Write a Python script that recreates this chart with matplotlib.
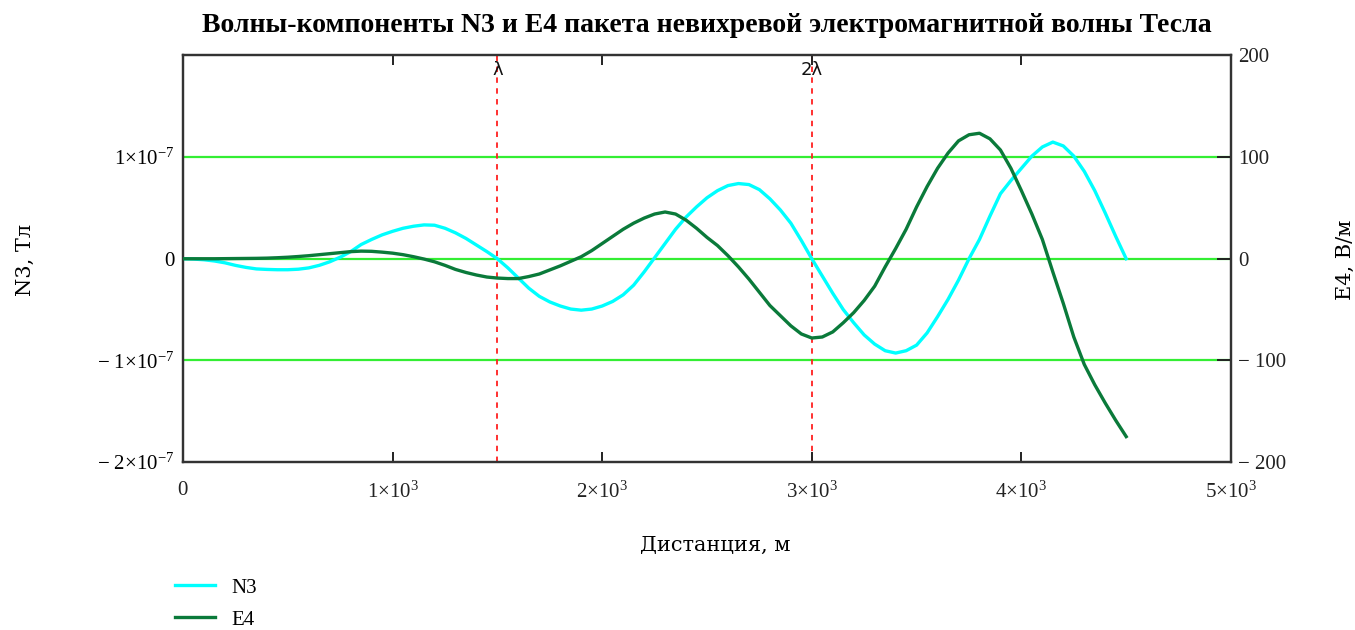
import matplotlib
matplotlib.use("Agg")
import matplotlib.pyplot as plt
from matplotlib.lines import Line2D

plt.rcParams['font.family'] = ['Liberation Serif', 'DejaVu Serif']
plt.rcParams['mathtext.fontset'] = 'custom'
plt.rcParams['mathtext.rm'] = 'Liberation Serif'
plt.rcParams['mathtext.it'] = 'Liberation Serif:italic'

# ---- data ----
distance_m = [0, 50, 100, 150, 200, 250, 300, 350, 400, 450,
              500, 550, 600, 650, 700, 750, 800, 850, 900, 950,
              1000, 1050, 1100, 1150, 1200, 1250, 1300, 1350, 1400, 1450,
              1500, 1550, 1600, 1650, 1700, 1750, 1800, 1850, 1900, 1950,
              2000, 2050, 2100, 2150, 2200, 2250, 2300, 2350, 2400, 2450,
              2500, 2550, 2600, 2650, 2700, 2750, 2800, 2850, 2900, 2950,
              3000, 3050, 3100, 3150, 3200, 3250, 3300, 3350, 3400, 3450,
              3500, 3550, 3600, 3650, 3700, 3750, 3800, 3850, 3900, 3950,
              4000, 4050, 4100, 4150, 4200, 4250, 4300, 4350, 4400, 4450,
              4500]
# N3 in units of 1e-9 T
n3_nT = [0, -0.3, -1, -2.2, -4, -6.5, -8.5, -10, -10.5, -10.8,
         -10.8, -10.3, -9, -6.5, -3, 1.5, 7, 14, 19, 23.5,
         27, 30, 32, 33.3, 33, 30, 25.5, 20, 13.5, 7,
         0, -9, -19, -29, -37, -42.5, -46.5, -49.5, -50.6, -49.5,
         -46.5, -42, -35.5, -26, -13, 1, 15, 29, 41, 51,
         60, 67, 72, 74, 73, 68, 59, 48, 35, 18,
         0, -17, -34, -50, -63, -75, -84, -90.5, -92.8, -90.5,
         -85, -73, -57, -40, -21, 0, 19, 42, 64, 77,
         89, 101, 110, 114.8, 111, 101, 86, 67, 45, 22,
         0]
# E4 in V/m
e4_Vm = [0, 0, 0, 0, 0.1, 0.2, 0.3, 0.4, 0.6, 1,
         1.5, 2.2, 3, 4, 5, 6, 7, 7.5, 7.3, 6.5,
         5.5, 4, 2, -0.3, -3, -6.5, -10.5, -13.5, -16, -18,
         -19, -19.5, -19.5, -17.5, -15, -11, -7, -2.5, 2, 8,
         15, 22, 29, 35, 40, 44, 46, 44, 38, 30,
         21, 13, 3, -8, -20, -33, -46, -56, -66, -74,
         -78, -77, -72, -63, -53, -41, -27, -8, 10, 29,
         51, 71, 89, 104, 116, 122, 123.5, 118, 107, 89,
         67, 44, 19, -13, -44, -77, -104, -124, -142, -159,
         -175]
n3_T = [v * 1e-9 for v in n3_nT]

markers_x = [1500, 3000]
markers_lbl = ['λ', '2λ']

x_ticks = [0, 1000, 2000, 3000, 4000, 5000]
x_ticklabels = [r'$\mathregular{0}$', r'$\mathregular{1{\times}10^{3}}$', r'$\mathregular{2{\times}10^{3}}$',
                r'$\mathregular{3{\times}10^{3}}$', r'$\mathregular{4{\times}10^{3}}$', r'$\mathregular{5{\times}10^{3}}$']
yl_ticks = [-2e-7, -1e-7, 0, 1e-7, 2e-7]
yl_ticklabels = [r'$\mathregular{-\ 2{\times}10^{-7}}$', r'$\mathregular{-\ 1{\times}10^{-7}}$', '0',
                 r'$\mathregular{1{\times}10^{-7}}$', '']
yr_ticks = [-200, -100, 0, 100, 200]
yr_ticklabels = ['− 200', '− 100', '0', '100', '200']

fig = plt.figure(figsize=(13.55, 6.30), dpi=100)
ax = fig.add_axes([183/1355, 1 - 462/630, (1231-183)/1355, (462-55.5)/630])
ax2 = ax.twinx()

ax.set_xlim(0, 5000)
ax.set_ylim(-2e-7, 2e-7)
ax2.set_ylim(-200, 200)

for g in [-1e-7, 0, 1e-7]:
    ax.axhline(g, color='#33ee33', lw=1.6, zorder=1)
for mx in markers_x:
    ax.axvline(mx, color='#ff2020', lw=1.3, ls=(0, (3, 3)), zorder=1)

ax.plot(distance_m, n3_T, color='#00ffff', lw=2.4, zorder=3, solid_joinstyle='round')
ax2.plot(distance_m, e4_Vm, color='#0a7a3a', lw=2.4, zorder=3, solid_joinstyle='round')

for mx, ml in zip(markers_x, markers_lbl):
    ax.text(mx, 1.95e-7, ml, ha='center', va='top', fontsize=13, family='DejaVu Sans', color='#111111')

ax.set_xticks(x_ticks)
ax.set_xticklabels(x_ticklabels, fontsize=15)
ax.set_yticks(yl_ticks)
ax.set_yticklabels(yl_ticklabels, fontsize=15)
ax2.set_yticks(yr_ticks)
ax2.set_yticklabels(yr_ticklabels, fontsize=15)

ax.tick_params(axis='x', direction='in', length=7, width=1.4, pad=14, top=True, colors='#222222')
ax.tick_params(axis='y', length=0, pad=6)
ax2.tick_params(axis='y', direction='in', length=10, width=1.4, pad=5, colors='#222222')
for a in (ax, ax2):
    for s in a.spines.values():
        s.set_color('#333333')
        s.set_linewidth(1.6)

fig.text(715/1355, 1 - 545/630, 'Дистанция, м', ha='center', va='center', fontsize=15, family='DejaVu Serif')
fig.text(25/1355, 1 - 260/630, 'N3, Тл', rotation=90, ha='center', va='center', fontsize=15, family='DejaVu Serif')
fig.text(1345/1355, 1 - 260/630, 'E4, В/м', rotation=90, ha='center', va='center', fontsize=15, family='DejaVu Serif')
fig.text(707/1355, 1 - 25/630, 'Волны-компоненты N3 и E4 пакета невихревой электромагнитной волны Тесла',
         ha='center', va='center', fontsize=20, fontweight='bold')

handles = [Line2D([], [], color='#00ffff', lw=2.4), Line2D([], [], color='#0a7a3a', lw=2.4)]
fig.legend(handles, ['N3', 'E4'], loc='upper left', bbox_to_anchor=(175/1355, 1 - 578/630),
           frameon=False, fontsize=15, handlelength=1.9, handletextpad=0.8, labelspacing=0.6,
           borderaxespad=0, borderpad=0)

fig.savefig('out.png', dpi=100, facecolor='white')
